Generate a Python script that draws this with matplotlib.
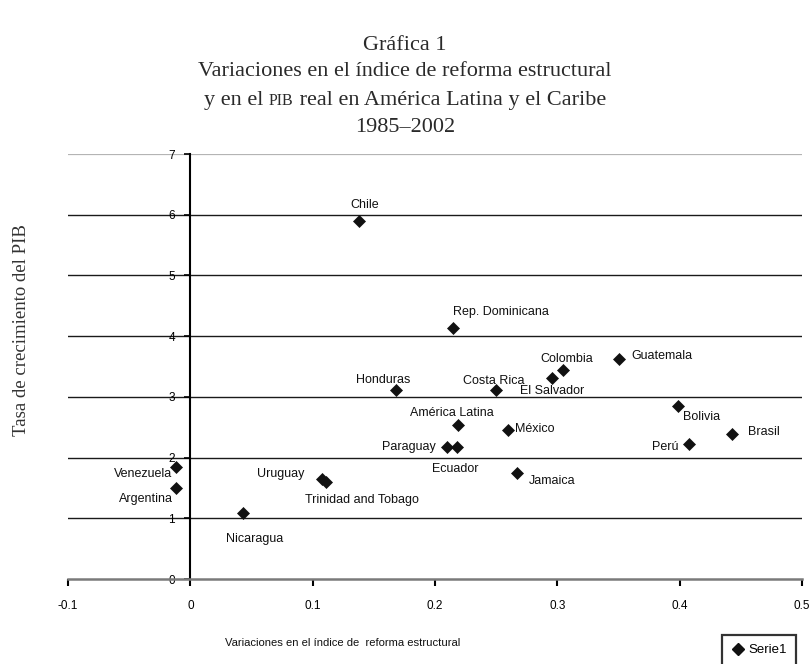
import matplotlib
matplotlib.use("Agg")
import matplotlib.pyplot as plt
from matplotlib.lines import Line2D

# data
paises = ["Chile", "Rep. Dominicana", "Colombia", "El Salvador", "Guatemala",
          "Costa Rica", "Honduras", "América Latina", "México", "Paraguay",
          "Ecuador", "Jamaica", "Bolivia", "Brasil", "Perú", "Venezuela",
          "Argentina", "Uruguay", "Trinidad and Tobago", "Nicaragua"]
reforma = [0.138, 0.215, 0.305, 0.296, 0.350, 0.250, 0.168, 0.219, 0.260, 0.210,
           0.218, 0.267, 0.399, 0.443, 0.408, -0.012, -0.012, 0.108, 0.111, 0.043]
pib = [5.89, 4.14, 3.45, 3.31, 3.62, 3.12, 3.11, 2.53, 2.46, 2.18,
       2.18, 1.74, 2.85, 2.39, 2.22, 1.84, 1.50, 1.64, 1.59, 1.09]
xticks = [-0.1, 0, 0.1, 0.2, 0.3, 0.4, 0.5]
yticks = [0, 1, 2, 3, 4, 5, 6, 7]

# label offsets in pixels (dx, dy) and alignment
label_pos = {
    "Chile": (6, 16, "center"),
    "Rep. Dominicana": (0, 16, "left"),
    "Colombia": (3, 11, "center"),
    "El Salvador": (0, -13, "center"),
    "Guatemala": (13, 3, "left"),
    "Costa Rica": (-2, 9, "center"),
    "Honduras": (-13, 10, "center"),
    "América Latina": (-6, 12, "center"),
    "México": (7, 1, "left"),
    "Paraguay": (-11, 0, "right"),
    "Ecuador": (-2, -22, "center"),
    "Jamaica": (12, -8, "left"),
    "Bolivia": (5, -11, "left"),
    "Brasil": (16, 2, "left"),
    "Perú": (-11, -3, "right"),
    "Venezuela": (-3, -7, "right"),
    "Argentina": (-3, -11, "right"),
    "Uruguay": (-18, 5, "right"),
    "Trinidad and Tobago": (-21, -18, "left"),
    "Nicaragua": (12, -26, "center"),
}

sans = "Liberation Sans"
serif = "Liberation Serif"
ink = "#111111"
title_col = "#2a2a2a"

fig = plt.figure(figsize=(8.10, 6.64), dpi=100)
ax = fig.add_axes([68 / 810, 85 / 664, 734 / 810, 425 / 664])
ax.set_xlim(-0.1, 0.5)
ax.set_ylim(0, 7)

for y in yticks[1:]:
    col = "#b4b4b4" if y == 7 else "#1a1a1a"
    lw = 1.6 if y == 7 else 1.0
    ax.axhline(y, color=col, lw=lw, zorder=1)

ax.plot(reforma, pib, linestyle="none", marker="D", ms=5.8, color=ink,
        mec=ink, mew=0.5, zorder=3, label="Serie1")

for name, x, y in zip(paises, reforma, pib):
    dx, dy, ha = label_pos[name]
    ax.annotate(name, (x, y), xytext=(dx, dy), textcoords="offset pixels",
                ha=ha, va="center", fontsize=9, family=sans, color=ink)

for s in ["top", "right"]:
    ax.spines[s].set_visible(False)
ax.spines["left"].set_position(("data", 0))
ax.spines["left"].set_color("black")
ax.spines["left"].set_linewidth(1.5)
ax.spines["bottom"].set_color("#7a7a7a")
ax.spines["bottom"].set_linewidth(1.8)

ax.set_xticks(xticks)
ax.set_xticklabels([f"{v:g}" for v in xticks])
ax.set_yticks(yticks)
ax.tick_params(axis="x", direction="out", length=5, width=1.5, color="black",
               pad=10, labelsize=8.5)
ax.tick_params(axis="y", direction="out", length=4, width=1.2, color="black",
               pad=7, labelsize=8.5)
for lab in ax.get_xticklabels() + ax.get_yticklabels():
    lab.set_family(sans)

# titles
fig.text(0.5, 1 - 45 / 664, "Gráfica 1", ha="center", va="center",
         fontsize=16, family=serif, color=title_col)
fig.text(0.5, 1 - 72 / 664, "Variaciones en el índice de reforma estructural",
         ha="center", va="center", fontsize=16, family=serif, color=title_col)
fig.text(0.5, 1 - 127 / 664, "1985–2002", ha="center", va="center",
         fontsize=16, family=serif, color=title_col)

# third line with PIB in small caps
r = fig.canvas.get_renderer()
parts = [("y en el ", 16), ("PIB", 11.5), (" real en América Latina y el Caribe", 16)]
texts = [fig.text(0, 0, p, fontsize=fs, family=serif, color=title_col,
                  va="baseline") for p, fs in parts]
widths = [t.get_window_extent(r).width for t in texts]
x0 = (810 - sum(widths)) / 2
base = 1 - 105 / 664
for t, w in zip(texts, widths):
    t.set_position((x0 / 810, base))
    x0 += w

fig.text(22 / 810, 1 - 330 / 664, "Tasa de crecimiento del PIB", rotation=90,
         ha="center", va="center", fontsize=13.5, family=serif, color="#333333")
fig.text(225 / 810, 1 - 643 / 664, "Variaciones en el índice de  reforma estructural",
         ha="left", va="center", fontsize=8.1, family=sans, color=ink)

handle = Line2D([], [], linestyle="none", marker="D", ms=6, color=ink)
leg = fig.legend([handle], ["Serie1"], loc="upper left",
                 bbox_to_anchor=(722 / 810, 1 - 635 / 664),
                 prop={"family": sans, "size": 9.5}, frameon=True, fancybox=False,
                 borderpad=0.7, borderaxespad=0, handletextpad=0.3,
                 handlelength=1.0)
leg.get_frame().set_edgecolor("black")
leg.get_frame().set_linewidth(1.6)

fig.savefig("out.png", dpi=100)
